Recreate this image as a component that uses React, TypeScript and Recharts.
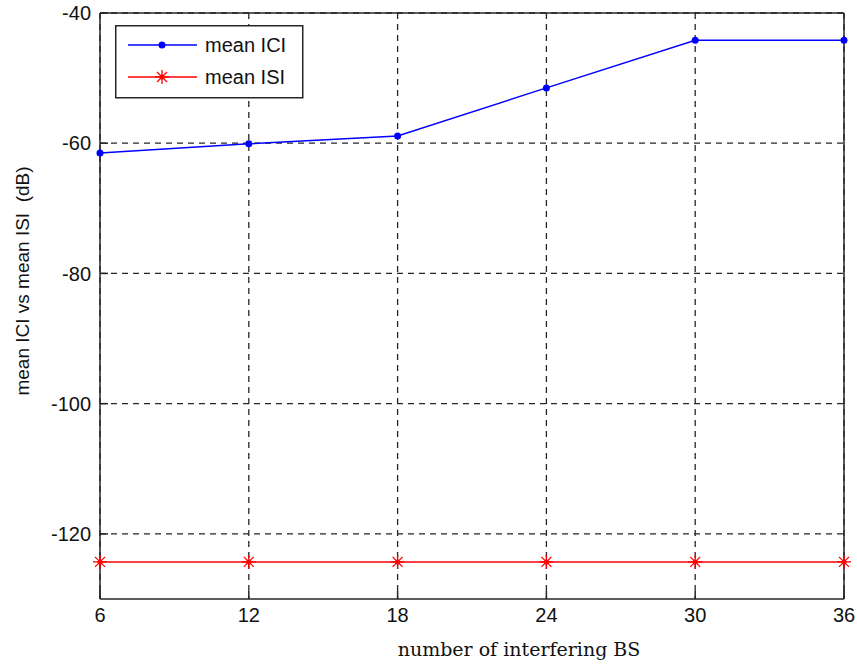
import React from 'react';
import { LineChart, Line, XAxis, YAxis, CartesianGrid, Legend, ReferenceLine } from 'recharts';

const interferingBS = [6, 12, 18, 24, 30, 36];
const meanICI = [-61.5, -60.1, -58.9, -51.5, -44.2, -44.2];
const meanISI = [-124.3, -124.3, -124.3, -124.3, -124.3, -124.3];
const xTicks = [6, 12, 18, 24, 30, 36];
const yTicks = [-120, -100, -80, -60, -40];
const xDomain = [6, 36];
const yDomain = [-130, -40];

const data = interferingBS.map((x, i) => ({ x, ici: meanICI[i], isi: meanISI[i] }));

const AXIS = '#262626';
const tickFont = { fontFamily: 'Liberation Sans, Arial, sans-serif', fontSize: 20, fill: '#111' };

const Star = (props: any) => {
  const { cx, cy, index } = props;
  if (cx == null || cy == null) return <g key={index} />;
  const r = 7;
  const d = 5;
  return (
    <g key={index} stroke="#ff0000" strokeWidth={1.3}>
      <line x1={cx - r} x2={cx + r} y1={cy} y2={cy} />
      <line x1={cx} x2={cx} y1={cy - r} y2={cy + r} />
      <line x1={cx - d} x2={cx + d} y1={cy - d} y2={cy + d} />
      <line x1={cx - d} x2={cx + d} y1={cy + d} y2={cy - d} />
      <circle cx={cx} cy={cy} r={2.5} fill="#ff0000" stroke="none" />
    </g>
  );
};

const LegendBox = () => (
  <svg width={190} height={75} style={{ display: 'block' }}>
    <rect x={0.75} y={0.75} width={187} height={72} fill="#fff" stroke={AXIS} strokeWidth={1.5} />
    <line x1={13} x2={82} y1={20} y2={20} stroke="#0000ff" strokeWidth={1.5} />
    <circle cx={47} cy={20} r={3.5} fill="#0000ff" />
    <text x={90} y={27} fontFamily="Liberation Sans, Arial, sans-serif" fontSize={20} fill="#111">mean ICI</text>
    <line x1={13} x2={82} y1={52} y2={52} stroke="#ff0000" strokeWidth={1.5} />
    <g stroke="#ff0000" strokeWidth={1.3}>
      <line x1={40} x2={54} y1={52} y2={52} />
      <line x1={47} x2={47} y1={45} y2={59} />
      <line x1={42} x2={52} y1={47} y2={57} />
      <line x1={42} x2={52} y1={57} y2={47} />
    </g>
    <circle cx={47} cy={52} r={2.5} fill="#ff0000" />
    <text x={90} y={59} fontFamily="Liberation Sans, Arial, sans-serif" fontSize={20} fill="#111">mean ISI</text>
  </svg>
);

export default function App() {
  return (
    <div style={{ position: 'absolute', left: 0, top: 0, background: '#fff' }}>
      <LineChart width={857} height={666} data={data} margin={{ top: 13, right: 13, bottom: 37, left: 40 }}>
        <CartesianGrid
          xAxisId="b"
          yAxisId="l"
          stroke={AXIS}
          strokeDasharray="6 5"
          strokeWidth={1.3}
          horizontalValues={yTicks}
          verticalValues={xTicks}
        />
        <XAxis
          dataKey="x"
          type="number"
          domain={xDomain}
          ticks={xTicks}
          xAxisId="b"
          height={30}
          stroke={AXIS}
          strokeWidth={1.5}
          tickSize={-8}
          tickMargin={17}
          tick={tickFont}
          label={() => (
            <text x={519} y={656} textAnchor="middle" fontFamily="DejaVu Serif, serif" fontSize={19} fill="#111">
              number of interfering BS
            </text>
          )}
        />
        <YAxis
          type="number"
          domain={yDomain}
          ticks={yTicks}
          yAxisId="l"
          width={60}
          stroke={AXIS}
          strokeWidth={1.5}
          tickSize={-8}
          tickMargin={17}
          tick={tickFont}
          label={() => (
            <text
              x={29}
              y={281}
              transform="rotate(-90 29 281)"
              textAnchor="middle"
              fontFamily="Liberation Sans, Arial, sans-serif"
              fontSize={19}
              fill="#111"
              style={{ whiteSpace: 'pre' }}
            >
              {'mean ICI vs mean ISI  (dB)'}
            </text>
          )}
        />
        <ReferenceLine xAxisId="b" yAxisId="l" y={-40} stroke={AXIS} strokeWidth={1.5} />
        <ReferenceLine xAxisId="b" yAxisId="l" x={36} stroke={AXIS} strokeWidth={1.5} />
        <Legend
          layout="vertical"
          align="center"
          verticalAlign="middle"
          wrapperStyle={{ left: 115, top: 25, width: 190, height: 75 }}
          content={() => <LegendBox />}
        />
        <Line
          xAxisId="b"
          yAxisId="l"
          dataKey="ici"
          name="mean ICI"
          stroke="#0000ff"
          strokeWidth={1.5}
          dot={{ r: 3.5, fill: '#0000ff', stroke: '#0000ff', strokeWidth: 0 }}
          isAnimationActive={false}
        />
        <Line
          xAxisId="b"
          yAxisId="l"
          dataKey="isi"
          name="mean ISI"
          stroke="#ff0000"
          strokeWidth={1.5}
          dot={<Star />}
          isAnimationActive={false}
        />
      </LineChart>
    </div>
  );
}
